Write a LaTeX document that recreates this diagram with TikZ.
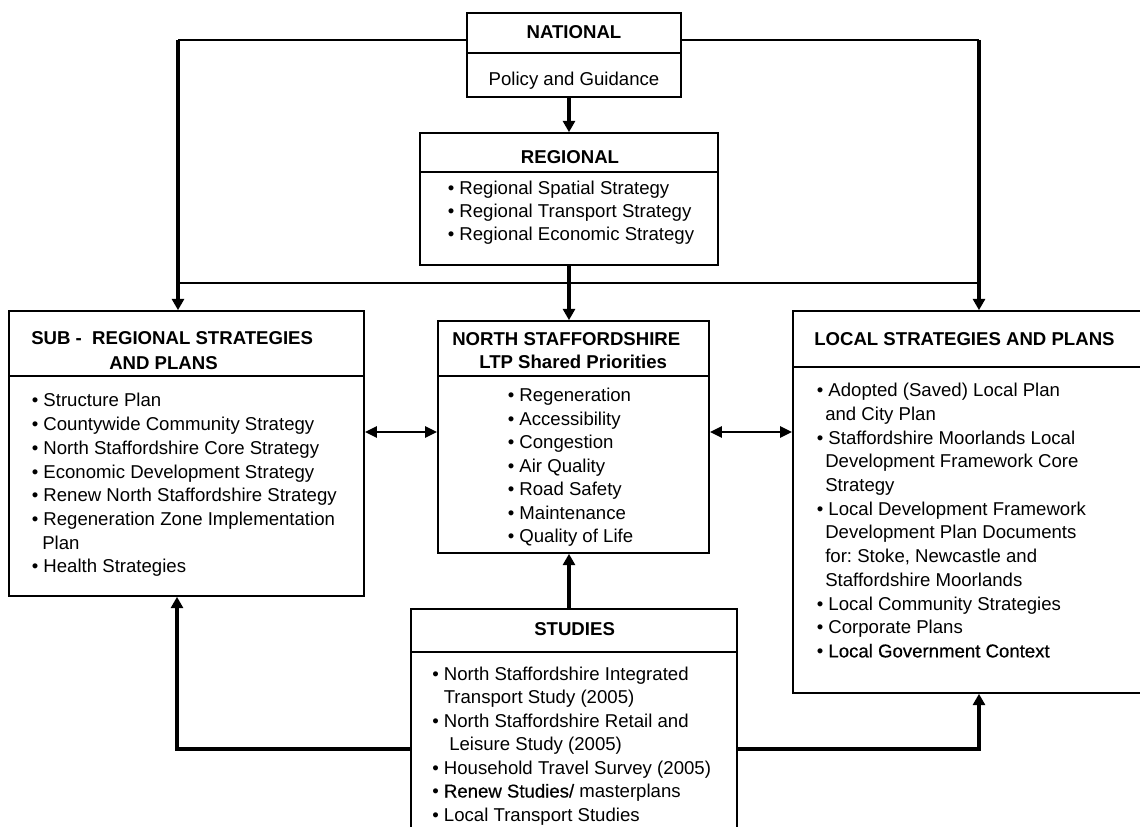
\documentclass[tikz,border=0pt]{standalone}
\usepackage{fontspec}
\setmainfont{Liberation Sans}
\newfontfamily\darkfont[FakeBold=0.5]{Liberation Sans}
\usetikzlibrary{arrows.meta,fit}
\frenchspacing
\newcommand\fs{\fontsize{13.95pt}{17pt}\selectfont}
\tikzset{
  box/.style={draw, line width=1.2pt, inner sep=0pt},
  divline/.style={line width=1.2pt},
  txt/.style={anchor=base west, inner sep=0pt, font=\fs},
  txtc/.style={anchor=base, inner sep=0pt, font=\fs},
  ttl/.style={anchor=base, inner sep=0pt, font=\fs\bfseries},
  ttlw/.style={anchor=base west, inner sep=0pt, font=\fs\bfseries},
  thinconn/.style={line width=1.8pt},
  arr/.style={line width=2.6pt, line join=miter, -{Triangle[length=8.5pt,width=9pt]}},
  darr/.style={line width=2.2pt, {Triangle[length=9pt,width=8pt]}-{Triangle[length=9pt,width=8pt]}},
}
\begin{document}
\begin{tikzpicture}[x=0.75pt,y=-0.75pt]
\useasboundingbox (0,0) rectangle (1140,827);
\fill[white] (0,0) rectangle (1140,827);

% boxes
\node[box, fit={(467,13) (681,97)}] (nat) {};
\node[box, fit={(420,133) (718,265)}] (reg) {};
\node[box, fit={(9,311) (364,596)}] (sub) {};
\node[box, fit={(438,321) (709,553)}] (ns) {};
\node[box, fit={(793,311) (1150,693)}] (loc) {};
\node[box, fit={(411,609) (737,845)}] (stu) {};

% dividers
\draw[divline] (nat.west |- 0,53) -- (nat.east |- 0,53);
\draw[divline] (reg.west |- 0,172) -- (reg.east |- 0,172);
\draw[divline] (sub.west |- 0,376) -- (sub.east |- 0,376);
\draw[divline] (ns.west |- 0,376) -- (ns.east |- 0,376);
\draw[divline] (loc.west |- 0,367) -- (loc.east |- 0,367);
\draw[divline] (stu.west |- 0,652) -- (stu.east |- 0,652);

% NATIONAL
\node[ttl] (natT) at (574,38.3) {NATIONAL};
\node[txtc] (natP) at (574,86) {Policy and Guidance};

% REGIONAL
\node[ttl] (regT) at (570,164) {REGIONAL};
\node[txt] (reg1) at (447.5,195) {\textbullet\ Regional Spatial Strategy};
\node[txt] (reg2) at (447.5,218) {\textbullet\ Regional Transport Strategy};
\node[txt] (reg3) at (447.5,241) {\textbullet\ Regional Economic Strategy};

% SUB-REGIONAL
\node[ttlw] (subT1) at (31,345) {SUB -\ \ REGIONAL STRATEGIES};
\node[ttlw] (subT2) at (109,369.5) {AND PLANS};
\node[txt] (sub1) at (31.5,407) {\textbullet\ Structure Plan};
\node[txt] (sub2) at (31.5,430.7) {\textbullet\ Countywide Community Strategy};
\node[txt] (sub3) at (31.5,454.4) {\textbullet\ North Staffordshire Core Strategy};
\node[txt] (sub4) at (31.5,478.1) {\textbullet\ Economic Development Strategy};
\node[txt] (sub5) at (31.5,501.8) {\textbullet\ Renew North Staffordshire Strategy};
\node[txt] (sub6) at (31.5,525.5) {\textbullet\ Regeneration Zone Implementation};
\node[txt] (sub7) at (42,549.2) {Plan};
\node[txt] (sub8) at (31.5,572.9) {\textbullet\ Health Strategies};

% NORTH STAFFORDSHIRE
\node[ttlw] (nsT1) at (452,346) {NORTH STAFFORDSHIRE};
\node[ttlw] (nsT2) at (479,369) {LTP Shared Priorities};
\node[txt] (ns1) at (507.5,401.7) {\textbullet\ Regeneration};
\node[txt] (ns2) at (507.5,425.2) {\textbullet\ Accessibility};
\node[txt] (ns3) at (507.5,448.7) {\textbullet\ Congestion};
\node[txt] (ns4) at (507.5,472.2) {\textbullet\ Air Quality};
\node[txt] (ns5) at (507.5,495.7) {\textbullet\ Road Safety};
\node[txt] (ns6) at (507.5,519.2) {\textbullet\ Maintenance};
\node[txt] (ns7) at (507.5,542.7) {\textbullet\ Quality of Life};

% LOCAL
\node[ttlw] (locT) at (814,345.7) {LOCAL STRATEGIES AND PLANS};
\node[txt] (loc1) at (816.5,396.7) {\textbullet\ Adopted (Saved) Local Plan};
\node[txt] (loc2) at (825,420.4) {and City Plan};
\node[txt] (loc3) at (816.5,444.1) {\textbullet\ Staffordshire Moorlands Local};
\node[txt] (loc4) at (825,467.8) {Development Framework Core};
\node[txt] (loc5) at (825,491.5) {Strategy};
\node[txt] (loc6) at (816.5,515.2) {\textbullet\ Local Development Framework};
\node[txt] (loc7) at (825,538.9) {Development Plan Documents};
\node[txt] (loc8) at (825,562.6) {for: Stoke, Newcastle and};
\node[txt] (loc9) at (825,586.3) {Staffordshire Moorlands};
\node[txt] (loc10) at (816.5,610) {\textbullet\ Local Community Strategies};
\node[txt] (loc11) at (816.5,633.7) {\textbullet\ Corporate Plans};
\node[txt] (loc12) at (816.5,657.4) {\textbullet\ {\darkfont Local Government Context}};

% STUDIES
\node[ttl] (stuT) at (574.6,635) {STUDIES};
\node[txt] (stu1) at (432,680) {\textbullet\ North Staffordshire Integrated};
\node[txt] (stu2) at (443.5,703.5) {Transport Study (2005)};
\node[txt] (stu3) at (432,727) {\textbullet\ North Staffordshire Retail and};
\node[txt] (stu4) at (449,750.5) {Leisure Study (2005)};
\node[txt] (stu5) at (432,774) {\textbullet\ Household Travel Survey (2005)};
\node[txt] (stu6) at (432,797.5) {\textbullet\ {\darkfont Renew Studies/} masterplans};
\node[txt] (stu7) at (432,821) {\textbullet\ Local Transport Studies};

% connectors
\coordinate (jl) at (178,40);
\coordinate (jr) at (979,40);
\coordinate (ml) at (178,283);
\coordinate (mr) at (979,283);
\coordinate (dy) at (0,432);
\coordinate (bl) at (177,749);
\coordinate (br) at (979,749);

\draw[thinconn] (nat.west |- jl) -- (jl);
\draw[thinconn] (nat.east |- jr) -- (jr);
\draw[arr] (jl) -- (jl |- sub.north);
\draw[arr] (jr) -- (jr |- loc.north);
\draw[arr] (nat.south -| reg.north) -- (reg.north);
\draw[thinconn] (ml) -- (mr);
\draw[arr] (reg.south) -- (reg.south |- ns.north);
\draw[arr] (stu.north -| reg.south) -- (ns.south -| reg.south);
\draw[darr] (sub.east |- dy) -- (ns.west |- dy);
\draw[darr] (ns.east |- dy) -- (loc.west |- dy);
\draw[arr] (stu.west |- bl) -- (bl) -- (bl |- sub.south);
\draw[arr] (stu.east |- br) -- (br) -- (br |- loc.south);
\end{tikzpicture}
\end{document}
